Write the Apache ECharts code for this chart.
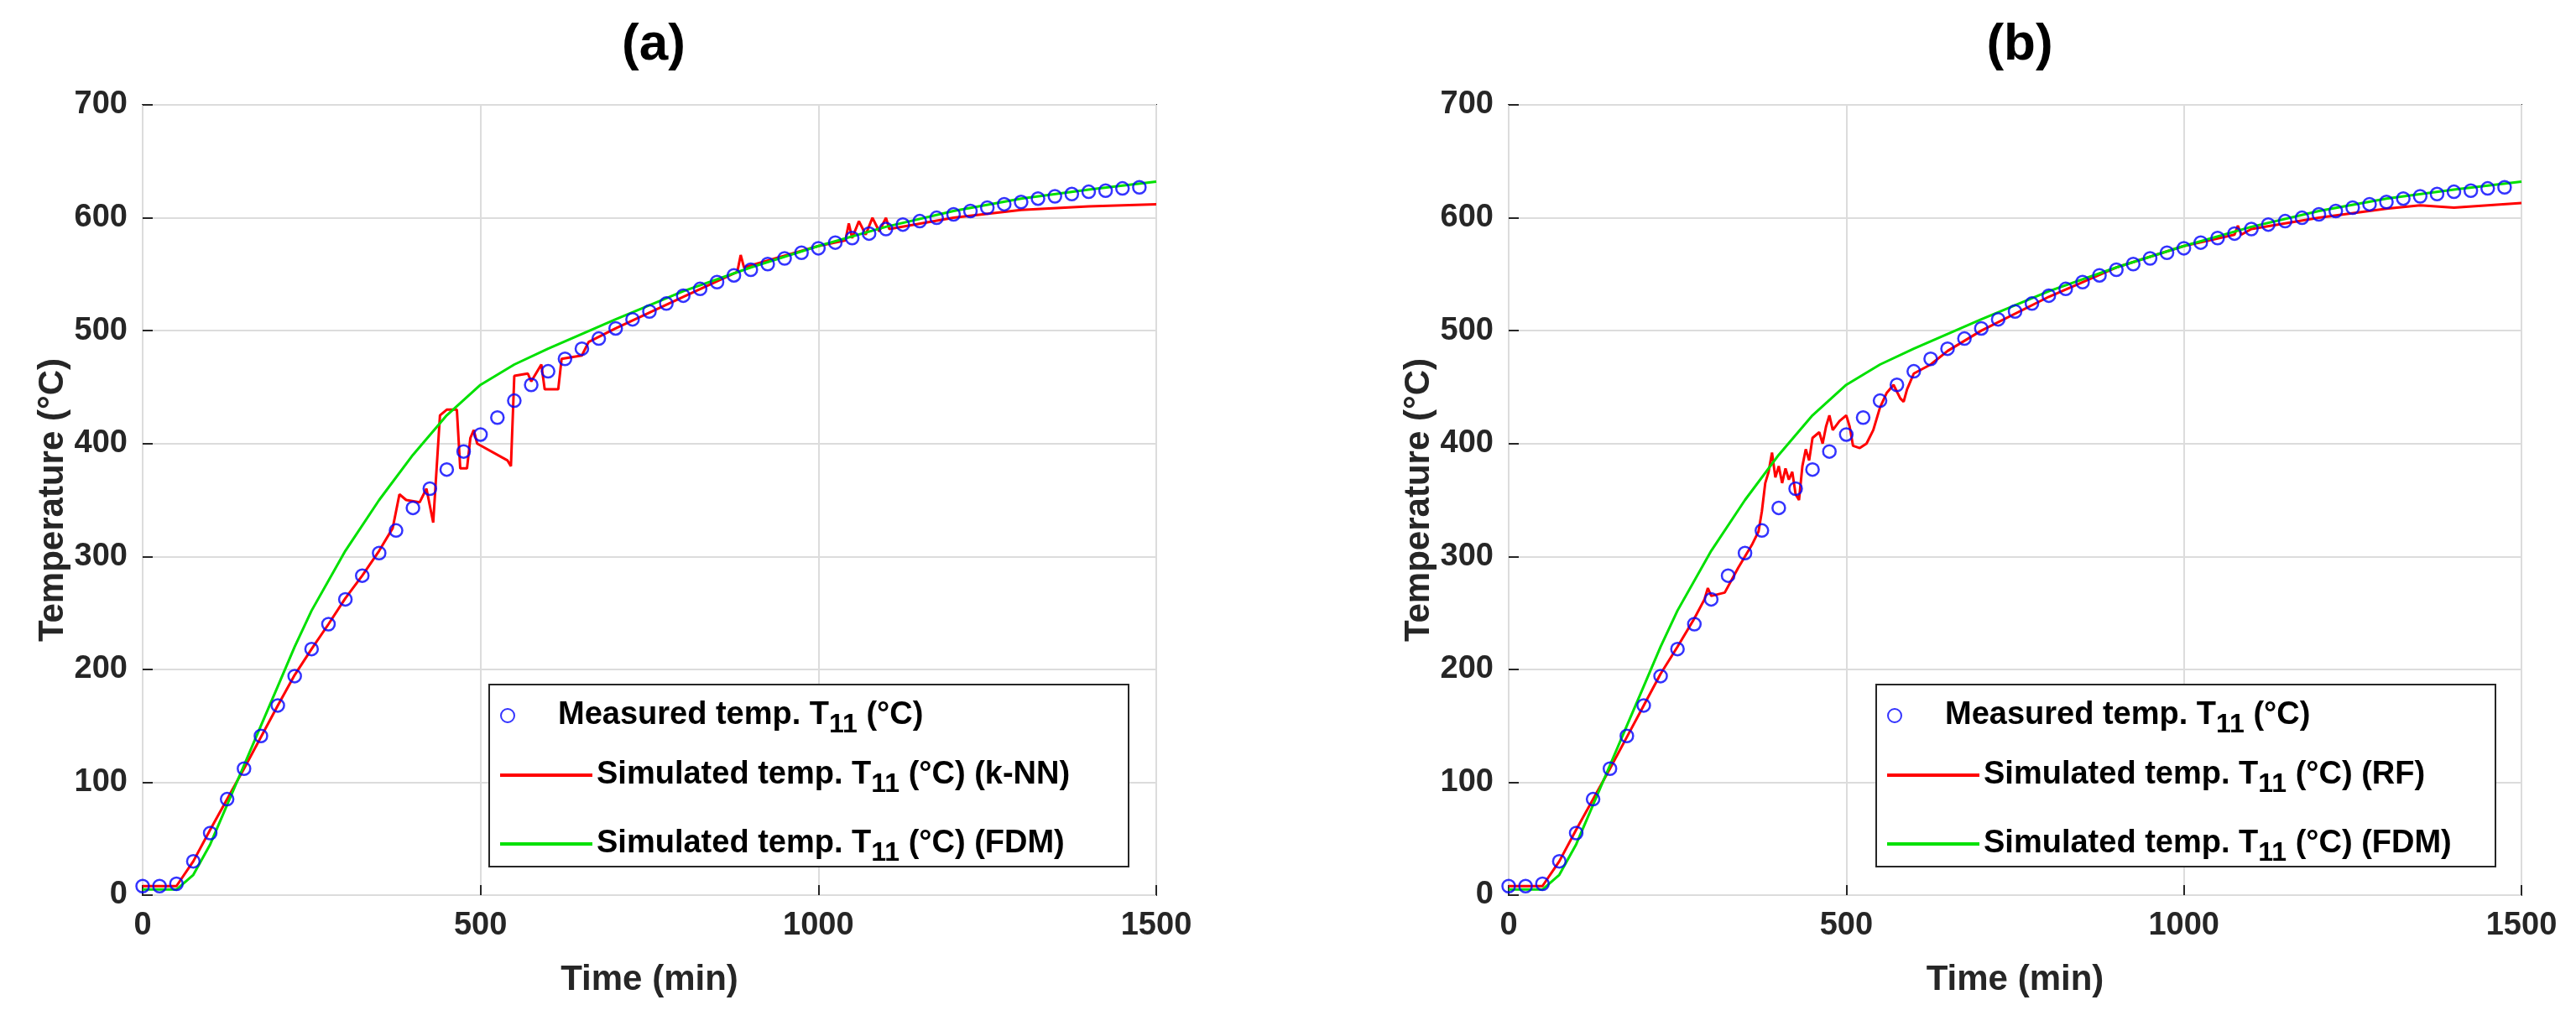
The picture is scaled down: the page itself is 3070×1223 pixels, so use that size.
<!DOCTYPE html>
<html><head><meta charset="utf-8">
<script src="https://cdn.jsdelivr.net/npm/echarts@6/dist/echarts.min.js"></script>
<style>html,body{margin:0;background:#fff}#c{width:3070px;height:1223px}</style></head>
<body><div id="c"></div>
<script>
const measuredT=[0,25,50,75,100,125,150,175,200,225,250,275,300,325,350,375,400,425,450,475,500,525,550,575,600,625,650,675,700,725,750,775,800,825,850,875,900,925,950,975,1000,1025,1050,1075,1100,1125,1150,1175,1200,1225,1250,1275,1300,1325,1350,1375,1400,1425,1450,1475];
const measuredV=[8,8,10,30,55,85,112,141,168,194,218,240,262,283,303,323,343,360,377,393,408,423,438,452,464,475,484,493,502,510,517,524,531,537,543,549,554,559,564,569,573,578,582,586,590,594,597,600,603,606,609,612,614,617,619,621,623,624,626,627];
const fdmT=[0,50,75,100,125,150,175,200,225,250,300,350,400,450,500,550,600,700,800,900,1000,1100,1200,1300,1400,1500];
const fdmV=[5,5,18,45,80,115,150,185,220,252,305,350,390,425,452,470,484,510,535,556,575,592,606,617,625,632];
const knnT=[0,50,75,100,150,200,225,250,275,300,325,350,370,375,380,390,410,420,425,430,440,450,465,470,480,485,490,495,540,545,550,570,575,590,595,615,620,650,660,700,800,880,885,890,1000,1040,1045,1050,1060,1070,1080,1090,1100,1105,1200,1300,1400,1500];
const knnV=[8,8,30,58,112,168,195,218,240,263,283,305,325,340,355,350,348,360,345,330,425,430,430,378,378,405,412,400,385,380,460,462,455,470,448,448,475,478,490,502,530,552,567,556,575,580,595,582,597,585,600,588,600,590,600,607,610,612];
const rfT=[0,50,75,100,150,175,200,225,250,275,290,295,300,320,340,360,370,375,380,385,390,395,400,405,410,415,420,425,430,435,440,445,450,460,465,470,475,480,490,500,505,510,520,530,540,550,560,570,580,585,590,600,625,650,700,800,900,1000,1075,1080,1085,1100,1200,1300,1350,1400,1500];
const rfV=[8,8,30,58,112,140,168,196,220,245,262,272,265,268,290,310,322,340,365,375,392,370,380,365,378,368,375,355,350,380,395,385,405,410,400,415,425,412,420,425,415,398,396,400,412,432,445,452,440,437,448,462,470,482,500,530,556,575,585,593,585,590,600,608,611,609,613];
const xTicks=[0,500,1000,1500];
const yTicks=[0,100,200,300,400,500,600,700];

const pair=(t,v)=>t.map((x,i)=>[x,v[i]]);
const F='"Liberation Sans", Arial, sans-serif';
const NM='Measured temp. T11 (°C)', NK='Simulated temp. T11 (°C) (k-NN)', NR='Simulated temp. T11 (°C) (RF)', NF='Simulated temp. T11 (°C) (FDM)';
const grids=[{left:170,right:1692,top:125,bottom:156,show:true,borderColor:'#262626',borderWidth:2,backgroundColor:'#fff'},
             {left:1798,right:65,top:125,bottom:156,show:true,borderColor:'#262626',borderWidth:2,backgroundColor:'#fff'}];
const axBase={min:0,type:'value',nameLocation:'middle',nameTextStyle:{fontFamily:F,fontWeight:'bold',fontSize:42,color:'#262626'},
  axisLine:{show:false},axisTick:{inside:true,length:12,lineStyle:{color:'#262626',width:2}},
  axisLabel:{fontFamily:F,fontWeight:'bold',fontSize:38,color:'#262626',margin:18,formatter:v=>String(v)},
  splitLine:{lineStyle:{color:'#dcdcdc',width:2}}};
const xA=i=>Object.assign({},axBase,{gridIndex:i,max:xTicks[xTicks.length-1],interval:xTicks[1],name:'Time (min)',nameGap:80});
const yA=i=>Object.assign({},axBase,{gridIndex:i,max:yTicks[yTicks.length-1],interval:yTicks[1],name:'Temperature (°C)',nameGap:85});
const legFmt=n=>{const p=n.split('T11');return '{a|'+p[0]+'T}{s|11}{a|'+p[1]+'}';};
const leg=(pos,data,h,gap)=>Object.assign({orient:'vertical',data:data,formatter:legFmt,padding:0,itemGap:gap,itemWidth:110,itemHeight:h,
  textStyle:{rich:{a:{fontFamily:F,fontWeight:'bold',fontSize:38,color:'#000'},s:{fontFamily:F,fontWeight:'bold',fontSize:32,color:'#000',padding:[22,0,0,0]}}}},pos);
const sc=(g,n)=>({name:n,type:'scatter',xAxisIndex:g,yAxisIndex:g,data:pair(measuredT,measuredV),symbol:'circle',symbolSize:15,itemStyle:{color:'rgba(0,0,0,0)',borderColor:'#0000ff',borderWidth:2.5},z:3});
const ln=(g,n,t,v,c)=>({name:n,type:'line',xAxisIndex:g,yAxisIndex:g,data:pair(t,v),showSymbol:false,symbol:'none',lineStyle:{color:c,width:3},itemStyle:{color:c},z:2});
const box=(x,w)=>({type:'rect',left:x,top:815,z:10,shape:{width:w,height:217},style:{fill:'#fff',stroke:'#262626',lineWidth:2}});
const opt={animation:false,
  title:[{text:'(a)',left:774,top:18,textAlign:'center',textStyle:{fontFamily:F,fontWeight:'bold',fontSize:62,color:'#000'}},
         {text:'(b)',left:2402,top:18,textAlign:'center',textStyle:{fontFamily:F,fontWeight:'bold',fontSize:62,color:'#000'}}],
  graphic:[box(582,762),box(2235,738)],
  grid:grids,xAxis:[xA(0),xA(1)],yAxis:[yA(0),yA(1)],
  legend:[leg({left:596,top:834,z:20},[{name:NM,icon:'circle'}],16,20),
          leg({left:596,top:905,z:20},[{name:NK,icon:'rect'},{name:NF,icon:'rect'}],4,36),
          leg({left:2249,top:834,z:20},[{name:NM,icon:'circle'}],16,20),
          leg({left:2249,top:905,z:20},[{name:NR,icon:'rect'},{name:NF,icon:'rect'}],4,36)],
  series:[sc(0,NM),ln(0,NK,knnT,knnV,'#ff0000'),ln(0,NF,fdmT,fdmV,'#00e000'),
          sc(1,NM),ln(1,NR,rfT,rfV,'#ff0000'),ln(1,NF,fdmT,fdmV,'#00e000')]};
const ch=echarts.init(document.getElementById('c'));ch.setOption(opt);
</script></body></html>
